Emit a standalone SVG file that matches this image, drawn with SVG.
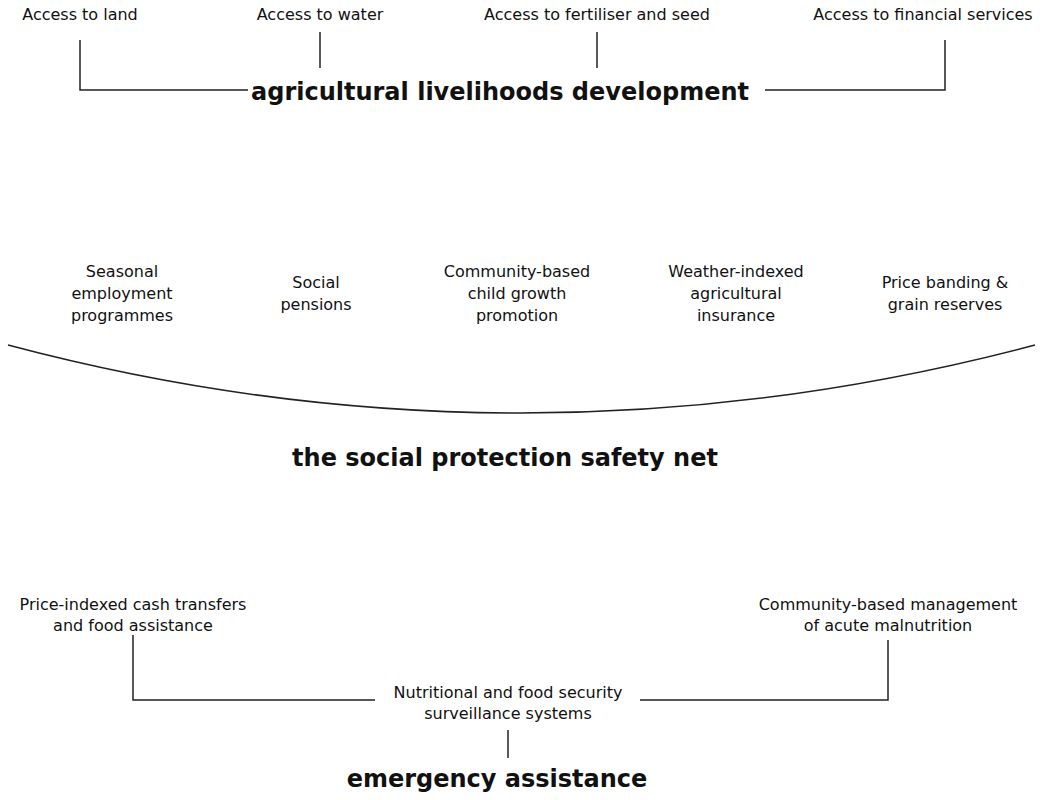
<svg xmlns="http://www.w3.org/2000/svg" width="1047" height="800" viewBox="0 0 1047 800">
<style>
text{font-family:"DejaVu Sans","Open Sans",sans-serif;fill:#111;text-anchor:middle}
.s{font-size:16px}
.b{font-size:24px;font-weight:bold}
.c{stroke:#222;stroke-width:1.5;fill:none}
</style>
<rect width="1047" height="800" fill="#fff"/>
<g id="connectors">
<polyline class="c" points="80,40 80,90 248,90"/>
<polyline class="c" points="945,40 945,90 765,90"/>
<line class="c" x1="320" y1="32" x2="320" y2="68"/>
<line class="c" x1="597" y1="32" x2="597" y2="68"/>
<path class="c" d="M8,345 Q520,481 1035,345"/>
<polyline class="c" points="133,635 133,700 375,700"/>
<polyline class="c" points="888,640 888,700 640,700"/>
<line class="c" x1="508" y1="730" x2="508" y2="758"/>
</g>
<g id="land"><text class="s" x="80" y="20">Access to land</text></g>
<g id="water"><text class="s" x="320" y="20">Access to water</text></g>
<g id="fert"><text class="s" x="597" y="20">Access to fertiliser and seed</text></g>
<g id="fin"><text class="s" x="923" y="20">Access to financial services</text></g>
<g id="agri"><text class="b" x="500" y="100">agricultural livelihoods  development</text></g>
<g id="seasonal"><text class="s" x="122" y="277">Seasonal</text><text class="s" x="122" y="299">employment</text><text class="s" x="122" y="321">programmes</text></g>
<g id="pensions"><text class="s" x="316" y="288">Social</text><text class="s" x="316" y="310">pensions</text></g>
<g id="child"><text class="s" x="517" y="277">Community-based</text><text class="s" x="517" y="299">child growth</text><text class="s" x="517" y="321">promotion</text></g>
<g id="weather"><text class="s" x="736" y="277">Weather-indexed</text><text class="s" x="736" y="299">agricultural</text><text class="s" x="736" y="321">insurance</text></g>
<g id="price"><text class="s" x="945" y="288">Price banding &amp;</text><text class="s" x="945" y="310">grain reserves</text></g>
<g id="safety"><text class="b" x="505" y="466">the social protection safety net</text></g>
<g id="cash"><text class="s" x="133" y="610">Price-indexed cash transfers</text><text class="s" x="133" y="631">and food assistance</text></g>
<g id="cmam"><text class="s" x="888" y="610">Community-based management</text><text class="s" x="888" y="631">of acute malnutrition</text></g>
<g id="surv"><text class="s" x="508" y="698">Nutritional and food security</text><text class="s" x="508" y="719">surveillance systems</text></g>
<g id="emerg"><text class="b" x="497" y="787">emergency assistance</text></g>
</svg>
